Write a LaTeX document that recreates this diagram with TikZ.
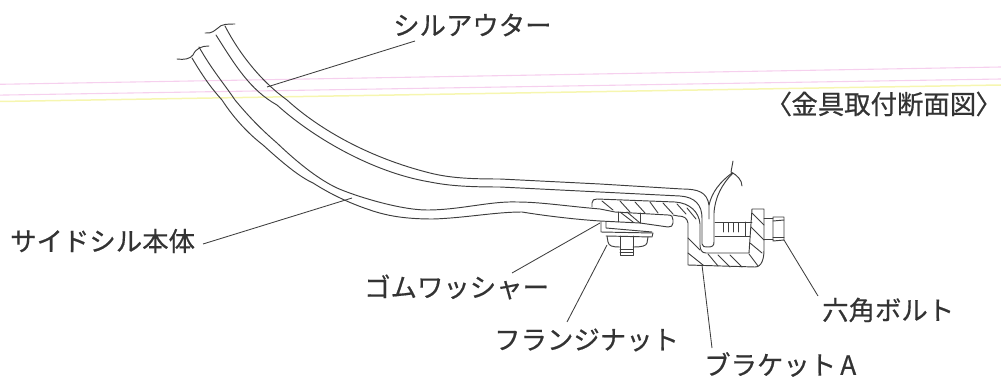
\documentclass[tikz,border=0pt]{standalone}
\usepackage{fontspec}
\newfontfamily\jp[RawFeature={embolden=0.5}]{Noto Sans CJK JP}
\newfontfamily\jpp[RawFeature={embolden=0.5;+palt}]{Noto Sans CJK JP}
\definecolor{ink}{RGB}{62,62,62}
\definecolor{pinkline}{RGB}{246,208,238}
\definecolor{yelline}{RGB}{246,246,176}
\tikzset{
  x=1pt,y=-1pt,
  part/.style={draw=ink,line width=0.95pt,line join=round,line cap=round},
  hatchline/.style={draw=ink,line width=0.9pt,line cap=round},
  lead/.style={draw=ink,line width=0.85pt},
  lbl/.style={font=\jp\fontsize{26.4}{26.4}\selectfont,text=black!80,inner sep=0pt,anchor=west},
  pinkrule/.style={draw=pinkline,line width=1.1pt},
  yelrule/.style={draw=yelline,line width=1.5pt}
}
\begin{document}
\begin{tikzpicture}
\useasboundingbox (0,0) rectangle (1001,377);
\path[pinkrule] (0,84.3) -- (1001,67);
\path[pinkrule] (0,95.1) -- (1001,79);
\path[yelrule] (0,101.5) -- (1001,85);
% outer sill
\path[part] (205,33) .. controls (212,34) and (215,30) .. (218,28) .. controls (221,24) and (228,24) .. (235,24);
\path[part] (225,26) .. controls (240,55) and (262,82) .. (287,100) .. controls (320,130) and (370,158) .. (430,173) .. controls (450,178) and (470,179) .. (500,179) -- (600,184) -- (682,189) .. controls (698,189) and (707,192) .. (709,205) -- (709,219);
\path[part] (216,35) .. controls (235,65) and (250,90) .. (277,105) .. controls (310,135) and (370,172) .. (430,182) .. controls (450,186) and (470,187) .. (500,187) -- (600,192) -- (680,196) .. controls (695,197) and (702,205) .. (702,218) -- (702,244) .. controls (702,247) and (705,247) .. (708,247) .. controls (712,247) and (714,246) .. (714,242) -- (714,213) .. controls (715,197) and (722,184) .. (733,173);
\path[part] (709,205) .. controls (712,192) and (720,182) .. (732,173);
\path[part] (733,161) -- (731,172) .. controls (737,175) and (742,180) .. (742,186);
% body
\path[part] (177,59) .. controls (184,60) and (190,59) .. (193,55) .. controls (196,48) and (202,46) .. (209,46);
\path[part] (199,47) .. controls (212,70) and (225,85) .. (235,100) .. controls (250,118) and (262,130) .. (277,143) .. controls (300,165) and (320,180) .. (337,188) .. controls (355,196) and (400,210) .. (427,210) .. controls (460,210) and (490,201) .. (517,202) .. controls (540,202) and (565,206) .. (600,209) -- (615,212) -- (668,215) .. controls (672,215) and (673,217) .. (673,220) -- (673,223) .. controls (673,226) and (671,227) .. (668,227) -- (640,223) -- (600,221);
\path[part] (192,58) .. controls (205,80) and (213,90) .. (222,100) .. controls (235,120) and (250,135) .. (263,145) .. controls (285,165) and (300,177) .. (313,183) .. controls (335,197) and (355,205) .. (370,210) .. controls (390,217) and (410,219) .. (433,219) .. controls (465,218) and (495,212) .. (522,212) .. controls (540,215) and (570,219) .. (600,221);
% bracket upper
\path[part] (592,207) -- (592,203) .. controls (592,200) and (594,199) .. (597,199) -- (675,202) .. controls (690,203) and (699,212) .. (700,224) -- (700,245) .. controls (700,250) and (702,253) .. (706,253) -- (749,253) -- (752,209) -- (764,209) -- (764,250) .. controls (764,258) and (762,267) .. (755,267) -- (688,265) -- (688,223) .. controls (687,218) and (684,216) .. (678,216) -- (673,215);
\path[part] (618,212) -- (618,222);
\path[part] (640,213) -- (640,223);
% hatching
\foreach \a/\b/\c/\d in {602/201/613/210,620/201/630/212,635/202/645/213,650/202/658/213,663/203/673/214,677/204/686/214,687/208/696/219,
 620/212/633/222,627/212/640/223,
 688/238/700/250,688/253/703/265,708/254/718/266,718/255/730/267,730/255/742/267,
 752/213/764/225,751/227/764/240,750/243/762/253,749/254/758/266}
  \path[hatchline] (\a,\b) -- (\c,\d);
% washer
\path[part] (601,222) -- (601,232) -- (653,233) -- (652,237) -- (606,236);
\path[part] (606,222) -- (606,228) -- (652,232);
% nut
\path[part] (607,236) -- (608,242) .. controls (609,246) and (612,247) .. (620,247);
\path[part] (633,247) .. controls (642,247) and (646,246) .. (647,243) -- (648,237);
\path[part] (620,236) -- (620,255) -- (633,255) -- (633,236);
\path[part] (620,249) -- (633,249);
\path[part] (620,252) -- (633,252);
% bolt
\path[part] (715,222) -- (752,222);
\path[part] (715,236) -- (750,236);
\foreach \t in {723,728,733,738}
  \path[part] (\t,223) -- (\t,232);
\path[part] (745,222) -- (745,236);
\path[part] (764,218) -- (773,218);
\path[part] (764,239) -- (773,239);
\path[part] (773,217) -- (784,217) -- (784,240) -- (773,241) -- cycle;
\path[part] (773,221) -- (784,220);
\path[part] (773,237) -- (784,237);
% labels
\node[lbl] (sill) at (393,25) {シルアウター};
\node[lbl,font=\jpp\fontsize{26.4}{26.4}\selectfont] (title) at (778,104) {〈金具取付断面図〉};
\node[lbl] (body) at (10,241) {サイドシル本体};
\node[lbl] (gomu) at (364,287) {ゴムワッシャー};
\node[lbl] (nut) at (494,340) {フランジナット};
\node[lbl] (brk) at (704,364.5) {ブラケット\kern4pt A};
\node[lbl] (hex) at (822,310) {六角ボルト};
\coordinate (p1) at (267,87);
\coordinate (p2) at (352,198);
\coordinate (p3) at (600,223);
\coordinate (p4) at (607,245);
\coordinate (p5) at (702,265);
\coordinate (p6) at (784,240);
\draw[lead] (415,41) -- (p1);
\draw[lead] (203,244) -- (p2);
\draw[lead] (512,273) -- (p3);
\draw[lead] (567,322) -- (p4);
\draw[lead] (712,348) -- (p5);
\draw[lead] (818,296) -- (p6);
\end{tikzpicture}
\end{document}
